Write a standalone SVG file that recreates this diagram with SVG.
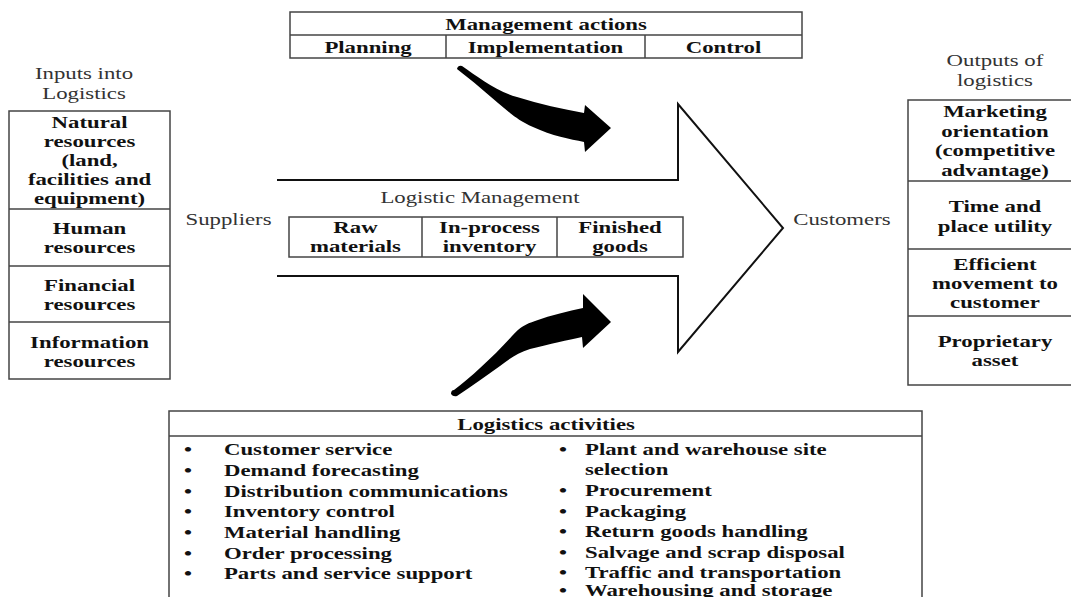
<svg xmlns="http://www.w3.org/2000/svg" width="1071" height="597" viewBox="0 0 1071 597">
<style>
.box{fill:#fff;stroke:#444;stroke-width:1.5}
.ln{stroke:#444;stroke-width:1.5;fill:none}
text{font-family:"Liberation Serif","Times New Roman",serif;font-size:16.5px;fill:#111}
.b{font-weight:bold}
.r{fill:#333}
.c{text-anchor:middle}
.big{fill:none;stroke:#111;stroke-width:2;stroke-linejoin:miter}
.curl{fill:#000}
</style>
<rect width="1071" height="597" fill="#fff"/>

<g id="connectors">
<path class="big" d="M277,180 L678,180 L678,104 L783,228 L678,352 L678,276 L277,276"/>
<path class="curl" d="M457,69 Q458,65 462,66 C478,77 496,91 517,97 C540,104 562,109 584,113 L585,105 L611,128 L585,152 L584,142 C570,139 552,136 533,127 C522,122 515,117 510,113 C494,100 478,85 462,73 Z"/>
<path class="curl" d="M451,394 Q451,390 454,390 C470,378 494,356 512,336 C520,327 526,324 535,321 C552,315 568,311 583,308 L583,294 L611,322 L583,348 L582,337 C568,340 550,344 530,349 C518,353 510,358 500,366 C486,376 472,386 457,396 Q453,397 451,394 Z"/>
</g>

<g id="management-actions">
<rect class="box" x="290" y="12" width="512" height="46"/>
<line class="ln" x1="290" y1="35" x2="802" y2="35"/>
<line class="ln" x1="446" y1="35" x2="446" y2="58"/>
<line class="ln" x1="645" y1="35" x2="645" y2="58"/>
<g transform="scale(1.38 1)">
<text class="b c" x="395.7" y="30">Management actions</text>
<text class="b c" x="266.7" y="53">Planning</text>
<text class="b c" x="395.3" y="53">Implementation</text>
<text class="b c" x="524.3" y="53">Control</text>
</g>
</g>

<g id="inputs">
<rect class="box" x="9" y="111" width="161" height="268"/>
<line class="ln" x1="9" y1="209" x2="170" y2="209"/>
<line class="ln" x1="9" y1="266" x2="170" y2="266"/>
<line class="ln" x1="9" y1="322" x2="170" y2="322"/>
<g transform="scale(1.38 1)">
<text class="r c" x="60.9" y="79">Inputs into</text>
<text class="r c" x="60.9" y="99">Logistics</text>
<text class="b c" x="64.9" y="128">Natural</text>
<text class="b c" x="64.9" y="147">resources</text>
<text class="b c" x="64.9" y="166">(land,</text>
<text class="b c" x="64.9" y="185">facilities and</text>
<text class="b c" x="64.9" y="204">equipment)</text>
<text class="b c" x="64.9" y="234">Human</text>
<text class="b c" x="64.9" y="253">resources</text>
<text class="b c" x="64.9" y="291">Financial</text>
<text class="b c" x="64.9" y="310">resources</text>
<text class="b c" x="64.9" y="348">Information</text>
<text class="b c" x="64.9" y="367">resources</text>
</g>
</g>

<g id="suppliers">
<g transform="scale(1.38 1)">
<text class="r c" x="165.6" y="225">Suppliers</text>
</g>
</g>

<g id="logistic-management">
<rect class="box" x="289" y="217" width="394" height="40"/>
<line class="ln" x1="422" y1="217" x2="422" y2="257"/>
<line class="ln" x1="557" y1="217" x2="557" y2="257"/>
<g transform="scale(1.38 1)">
<text class="r c" x="347.8" y="203">Logistic Management</text>
<text class="b c" x="257.6" y="233">Raw</text>
<text class="b c" x="257.6" y="252">materials</text>
<text class="b c" x="354.7" y="233">In-process</text>
<text class="b c" x="354.7" y="252">inventory</text>
<text class="b c" x="449.3" y="233">Finished</text>
<text class="b c" x="449.3" y="252">goods</text>
</g>
</g>

<g id="customers">
<g transform="scale(1.38 1)">
<text class="r c" x="610.1" y="225">Customers</text>
</g>
</g>

<g id="outputs">
<rect class="box" x="908" y="100" width="180" height="285"/>
<line class="ln" x1="908" y1="181" x2="1071" y2="181"/>
<line class="ln" x1="908" y1="249" x2="1071" y2="249"/>
<line class="ln" x1="908" y1="316" x2="1071" y2="316"/>
<g transform="scale(1.38 1)">
<text class="r c" x="721" y="66">Outputs of</text>
<text class="r c" x="721" y="86">logistics</text>
<text class="b c" x="721" y="117">Marketing</text>
<text class="b c" x="721" y="137">orientation</text>
<text class="b c" x="721" y="156">(competitive</text>
<text class="b c" x="721" y="176">advantage)</text>
<text class="b c" x="721" y="212">Time and</text>
<text class="b c" x="721" y="232">place utility</text>
<text class="b c" x="721" y="270">Efficient</text>
<text class="b c" x="721" y="289">movement to</text>
<text class="b c" x="721" y="308">customer</text>
<text class="b c" x="721" y="347">Proprietary</text>
<text class="b c" x="721" y="366">asset</text>
</g>
</g>

<g id="logistics-activities">
<path class="box" d="M169,600 L169,411 L922,411 L922,600"/>
<line class="ln" x1="169" y1="436" x2="922" y2="436"/>
<g transform="scale(1.38 1)">
<text class="b c" x="395.7" y="430">Logistics activities</text>
<text class="b c" x="136.2" y="455">•</text>
<text class="b c" x="136.2" y="476">•</text>
<text class="b c" x="136.2" y="497">•</text>
<text class="b c" x="136.2" y="517">•</text>
<text class="b c" x="136.2" y="538">•</text>
<text class="b c" x="136.2" y="559">•</text>
<text class="b c" x="136.2" y="579">•</text>
<text class="b" x="162.3" y="455">Customer service</text>
<text class="b" x="162.3" y="476">Demand forecasting</text>
<text class="b" x="162.3" y="497">Distribution communications</text>
<text class="b" x="162.3" y="517">Inventory control</text>
<text class="b" x="162.3" y="538">Material handling</text>
<text class="b" x="162.3" y="559">Order processing</text>
<text class="b" x="162.3" y="579">Parts and service support</text>
<text class="b c" x="408" y="455">•</text>
<text class="b c" x="408" y="496">•</text>
<text class="b c" x="408" y="517">•</text>
<text class="b c" x="408" y="537">•</text>
<text class="b c" x="408" y="558">•</text>
<text class="b c" x="408" y="578">•</text>
<text class="b c" x="408" y="596">•</text>
<text class="b" x="423.9" y="455">Plant and warehouse site</text>
<text class="b" x="423.9" y="475">selection</text>
<text class="b" x="423.9" y="496">Procurement</text>
<text class="b" x="423.9" y="517">Packaging</text>
<text class="b" x="423.9" y="537">Return goods handling</text>
<text class="b" x="423.9" y="558">Salvage and scrap disposal</text>
<text class="b" x="423.9" y="578">Traffic and transportation</text>
<text class="b" x="423.9" y="596">Warehousing and storage</text>
</g>
</g>
</svg>
